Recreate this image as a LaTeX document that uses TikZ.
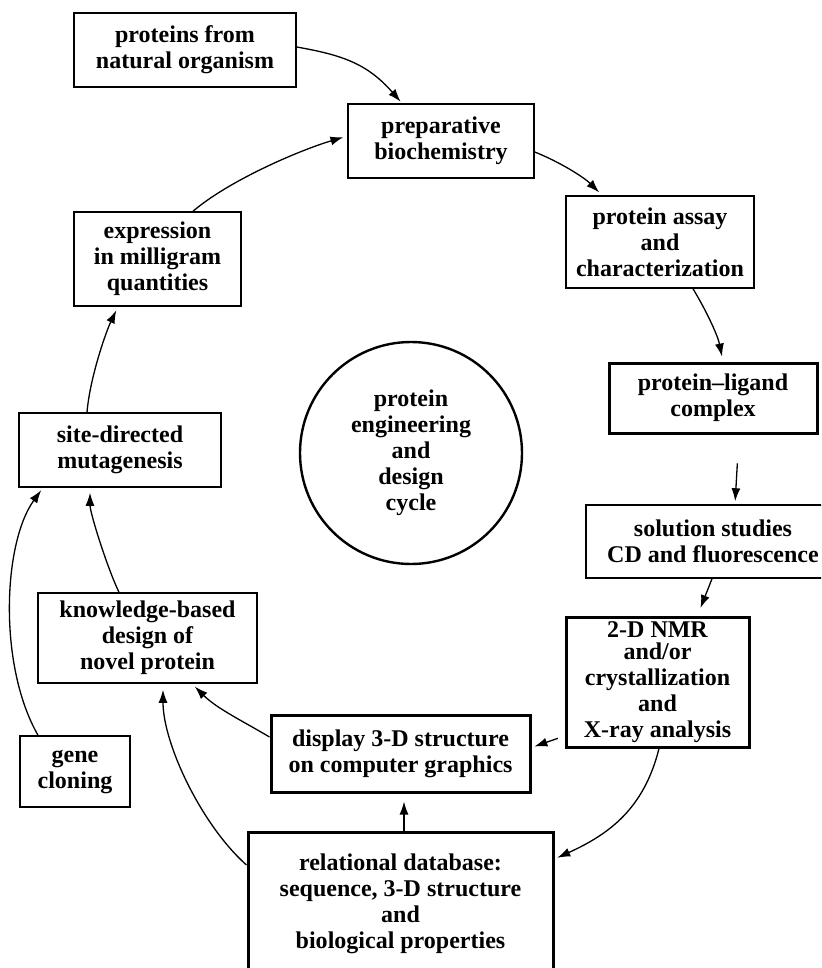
\documentclass[tikz,border=0pt]{standalone}
\usepackage{fontspec}
\setmainfont{Liberation Serif}
\usetikzlibrary{arrows.meta}
\begin{document}
\begin{tikzpicture}[x=1pt,y=-1pt,
  box/.style={draw, line width=1.5pt, rectangle, inner sep=0pt, align=center,
    font=\fontsize{24}{26}\selectfont\bfseries},
  thickbox/.style={box, line width=3pt},
  arr/.style={-{Latex[length=13pt,width=9pt]}, line width=1.3pt, shorten >=2pt},
]
\clip (0,0) rectangle (821,968);
\fill[white] (0,0) rectangle (821,968);

% boxes
\node[box, minimum width=222pt, minimum height=74pt] (nat) at (185,50) {proteins from\\natural organism};
\node[box, minimum width=186pt, minimum height=74pt] (prep) at (441,141) {preparative\\biochemistry};
\node[box, minimum width=188pt, minimum height=92pt] (assay) at (660,242) {protein assay\\and\\characterization};
\node[thickbox, minimum width=208pt, minimum height=70pt] (lig) at (713,398) {protein--ligand\\complex};
\node[box, minimum width=254pt, minimum height=73pt] (sol) at (713,541.5) {solution studies\\CD and fluorescence};
\node[thickbox, minimum width=183pt, minimum height=130pt] (nmr) at (657.5,682) {2-D NMR\\[-4pt]and/or\\crystallization\\and\\X-ray analysis};
\node[thickbox, minimum width=259pt, minimum height=77pt] (disp) at (400.5,753.5) {display 3-D structure\\on computer graphics};
\node[thickbox, minimum width=305pt, minimum height=143pt] (rel) at (400.5,903.5) {relational database:\\sequence, 3-D structure\\and\\biological properties};
\node[box, minimum width=219pt, minimum height=90pt] (know) at (147.5,638) {knowledge-based\\design of\\novel protein};
\node[box, minimum width=110pt, minimum height=71pt] (gene) at (75,771.5) {gene\\cloning};
\node[box, minimum width=202pt, minimum height=74pt] (site) at (120,450) {site-directed\\mutagenesis};
\node[box, minimum width=167pt, minimum height=94pt] (expr) at (157.5,259) {expression\\in milligram\\quantities};
\node[box, circle, line width=2.4pt, minimum size=222pt] (cyc) at (411,453) {protein\\engineering\\and\\design\\cycle};

% connectors
\draw[arr] ([yshift=3pt]nat.east) .. controls +(45,8) and +(-35,-40) .. ([xshift=-39pt]prep.north);
\draw[arr, shorten >=4pt] ([xshift=35.5pt]expr.north) .. controls +(35,-30) and +(-50,15) .. ([yshift=5pt]prep.west);
\draw[arr, shorten >=4pt] ([yshift=-11pt]prep.east) .. controls +(25,10) and +(-18,-18) .. ([xshift=-58pt]assay.north);
\draw[arr, shorten >=5pt] ([xshift=33pt]assay.south) .. controls +(15,25) and +(-5,-25) .. ([xshift=10pt]lig.north);
\draw[arr, shorten <=29pt, shorten >=3pt] ([xshift=26pt]lig.south) -- ([xshift=22pt]sol.north);
\draw[arr, shorten >=8pt] ([xshift=-1pt]sol.south) -- ([xshift=40pt]nmr.north);
\draw[arr, shorten <=7pt, shorten >=3pt] ([yshift=-54pt]nmr.west) -- ([yshift=6pt]disp.east);
\draw[arr, shorten >=3pt] ([xshift=1.5pt]nmr.south) .. controls +(-15,60) and +(55,-25) .. ([yshift=44.5pt]rel.east);
\draw[arr, shorten >=8pt] ([xshift=3.5pt]rel.north) -- ([xshift=3.5pt]disp.south);
\draw[arr, shorten >=4pt] ([yshift=16.5pt]disp.west) .. controls +(-25,-15) and +(25,25) .. ([xshift=44.5pt]know.south);
\draw[arr, shorten >=6pt] ([yshift=38.5pt]rel.west) .. controls +(-45,-40) and +(0,60) .. ([xshift=15.5pt]know.south);
\draw[arr, shorten >=3pt] ([xshift=-37pt]gene.north) .. controls +(-40,-70) and +(-40,55) .. ([xshift=-77pt]site.south);
\draw[arr, shorten >=5pt] ([xshift=-28.5pt]know.north) .. controls +(-12,-25) and +(0,25) .. ([xshift=-30pt]site.south);
\draw[arr, shorten >=4pt] ([xshift=-33pt]site.north) .. controls +(3,-35) and +(-12,25) .. ([xshift=-39.5pt]expr.south);
\end{tikzpicture}
\end{document}
